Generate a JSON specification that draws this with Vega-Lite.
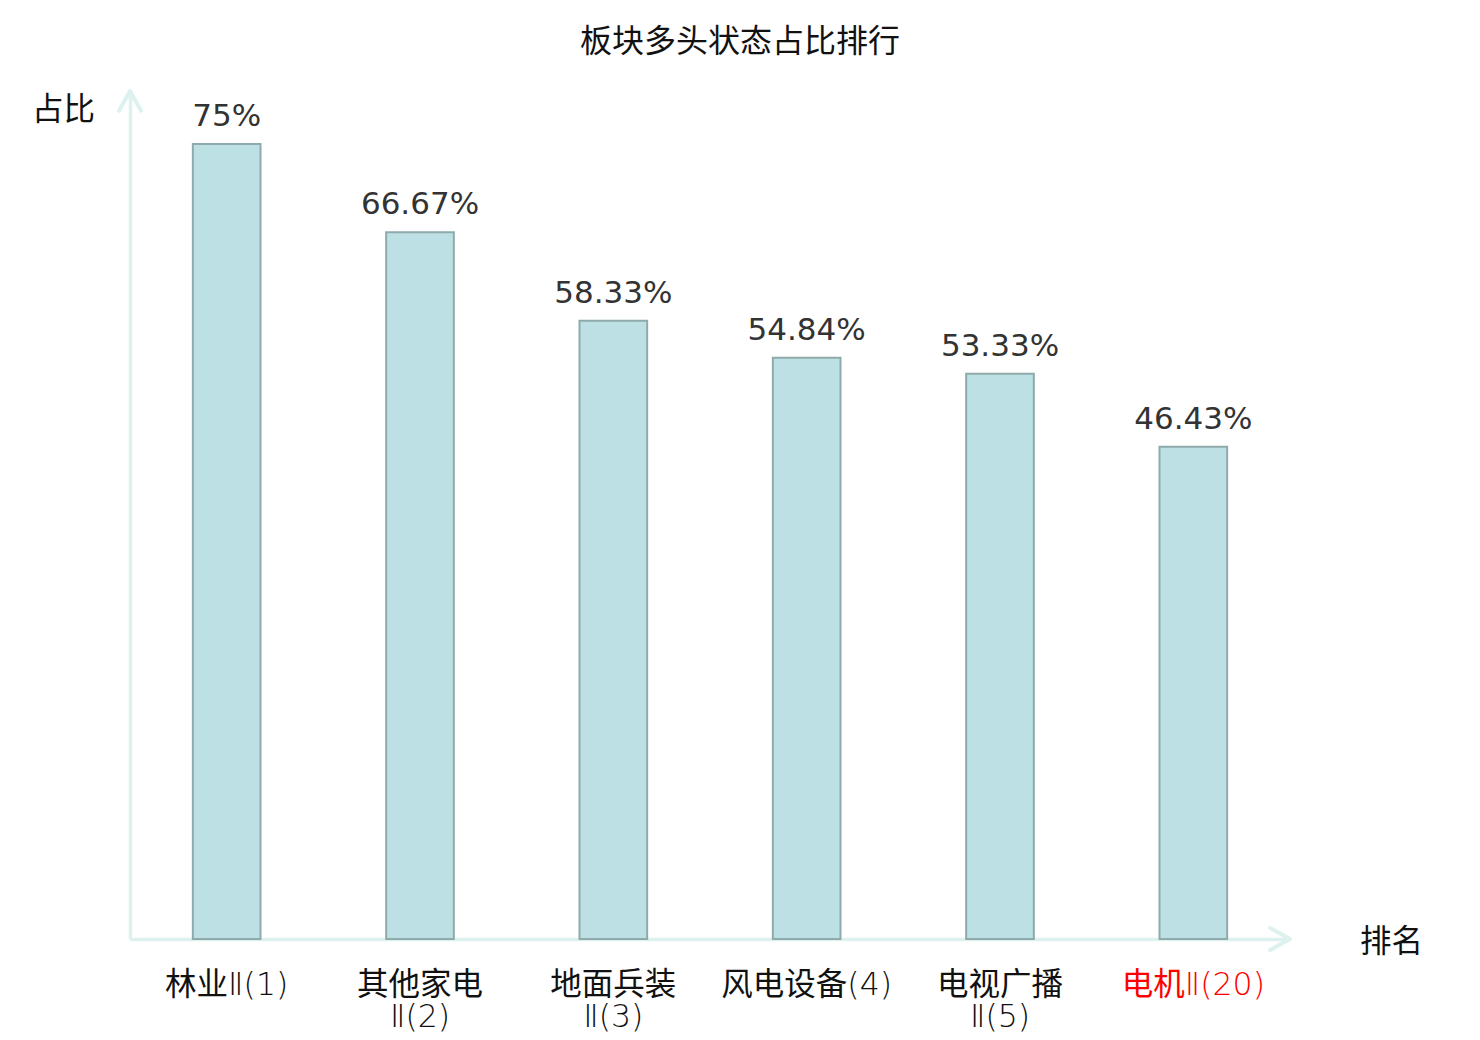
{
  "$schema": "https://vega.github.io/schema/vega-lite/v6.json",
  "autosize": "none",
  "width": 1160,
  "height": 848,
  "padding": {"left": 130, "top": 91, "right": 190, "bottom": 101},
  "background": "white",
  "title": {
    "text": "板块多头状态占比排行",
    "font": "Noto Sans CJK SC",
    "fontSize": 32,
    "fontWeight": "normal",
    "color": "#111111",
    "anchor": "middle",
    "dx": 30,
    "offset": 30
  },
  "data": {
    "values": [
      {"name": "林业Ⅱ(1)", "ratio": 0.75},
      {"name": "其他家电Ⅱ(2)", "ratio": 0.6667},
      {"name": "地面兵装Ⅱ(3)", "ratio": 0.5833},
      {"name": "风电设备(4)", "ratio": 0.5484},
      {"name": "电视广播Ⅱ(5)", "ratio": 0.5333},
      {"name": "电机Ⅱ(20)", "ratio": 0.4643}
    ]
  },
  "layer": [
    {
      "encoding": {
        "x": {
          "field": "name",
          "type": "nominal",
          "sort": null,
          "scale": {"paddingInner": 0, "paddingOuter": 0},
          "axis": {
            "title": "排名",
            "titleFont": "Noto Sans CJK SC",
            "titleFontSize": 31.5,
            "titleFontWeight": "normal",
            "titleColor": "#111111",
            "titleX": 1261,
            "titleY": 3,
            "titleAlign": "center",
            "titleBaseline": "middle",
            "labelAngle": 0,
            "labelFont": "DejaVu Sans Light, DejaVu Sans ExtraLight, Noto Sans CJK SC",
            "labelFontWeight": "normal",
            "labelFontSize": 31.5,
            "labelLineHeight": 32,
            "labelPadding": 30,
            "labelBaseline": "top",
            "labelExpr": "length(datum.value) > 7 ? [substring(datum.value, 0, 4), substring(datum.value, 4)] : datum.value",
            "labelColor": {"condition": {"test": "datum.value == '电机Ⅱ(20)'", "value": "#FF0000"}, "value": "#111111"},
            "ticks": false,
            "domainColor": "#DDF2EF",
            "domainWidth": 3.5
          }
        },
        "y": {
          "field": "ratio",
          "type": "quantitative",
          "scale": {"domain": [0, 0.8], "nice": false},
          "axis": {
            "title": "占比",
            "titleFont": "Noto Sans CJK SC",
            "titleFontSize": 31.5,
            "titleFontWeight": "normal",
            "titleColor": "#111111",
            "titleAngle": 0,
            "titleX": -67,
            "titleY": 19,
            "titleAlign": "center",
            "titleBaseline": "middle",
            "labels": false,
            "ticks": false,
            "grid": false,
            "domainColor": "#DDF2EF",
            "domainWidth": 3.5
          }
        }
      },
      "layer": [
        {
          "mark": {
            "type": "bar",
            "width": {"band": 0.35},
            "fill": "#BCE0E3",
            "stroke": "#8FAAAA",
            "strokeWidth": 2
          }
        },
        {
          "mark": {
            "type": "text",
            "font": "DejaVu Sans",
            "fontSize": 31,
            "color": "#333333",
            "baseline": "alphabetic",
            "dy": -18
          },
          "encoding": {
            "text": {"field": "ratio", "type": "quantitative", "format": ".2~%"}
          }
        }
      ]
    },
    {
      "data": {
        "values": [
          {"pos": 0, "val": 0.8, "dir": "up"},
          {"pos": 1, "val": 0, "dir": "right"}
        ]
      },
      "mark": {
        "type": "point",
        "filled": false,
        "stroke": "#DDF2EF",
        "strokeWidth": 4,
        "strokeCap": "round",
        "strokeJoin": "round",
        "size": 484,
        "opacity": 1
      },
      "encoding": {
        "x": {"field": "pos", "type": "quantitative", "scale": {"domain": [0, 1], "nice": false, "zero": false}, "axis": null},
        "y": {"field": "val", "type": "quantitative"},
        "shape": {
          "field": "dir",
          "type": "nominal",
          "scale": {"domain": ["up", "right"], "range": ["M-1,1.8L0,0L1,1.8", "M-1.8,-1L0,0L-1.8,1"]},
          "legend": null
        }
      }
    }
  ],
  "resolve": {"scale": {"x": "independent"}},
  "config": {
    "view": {"stroke": null}
  }
}
